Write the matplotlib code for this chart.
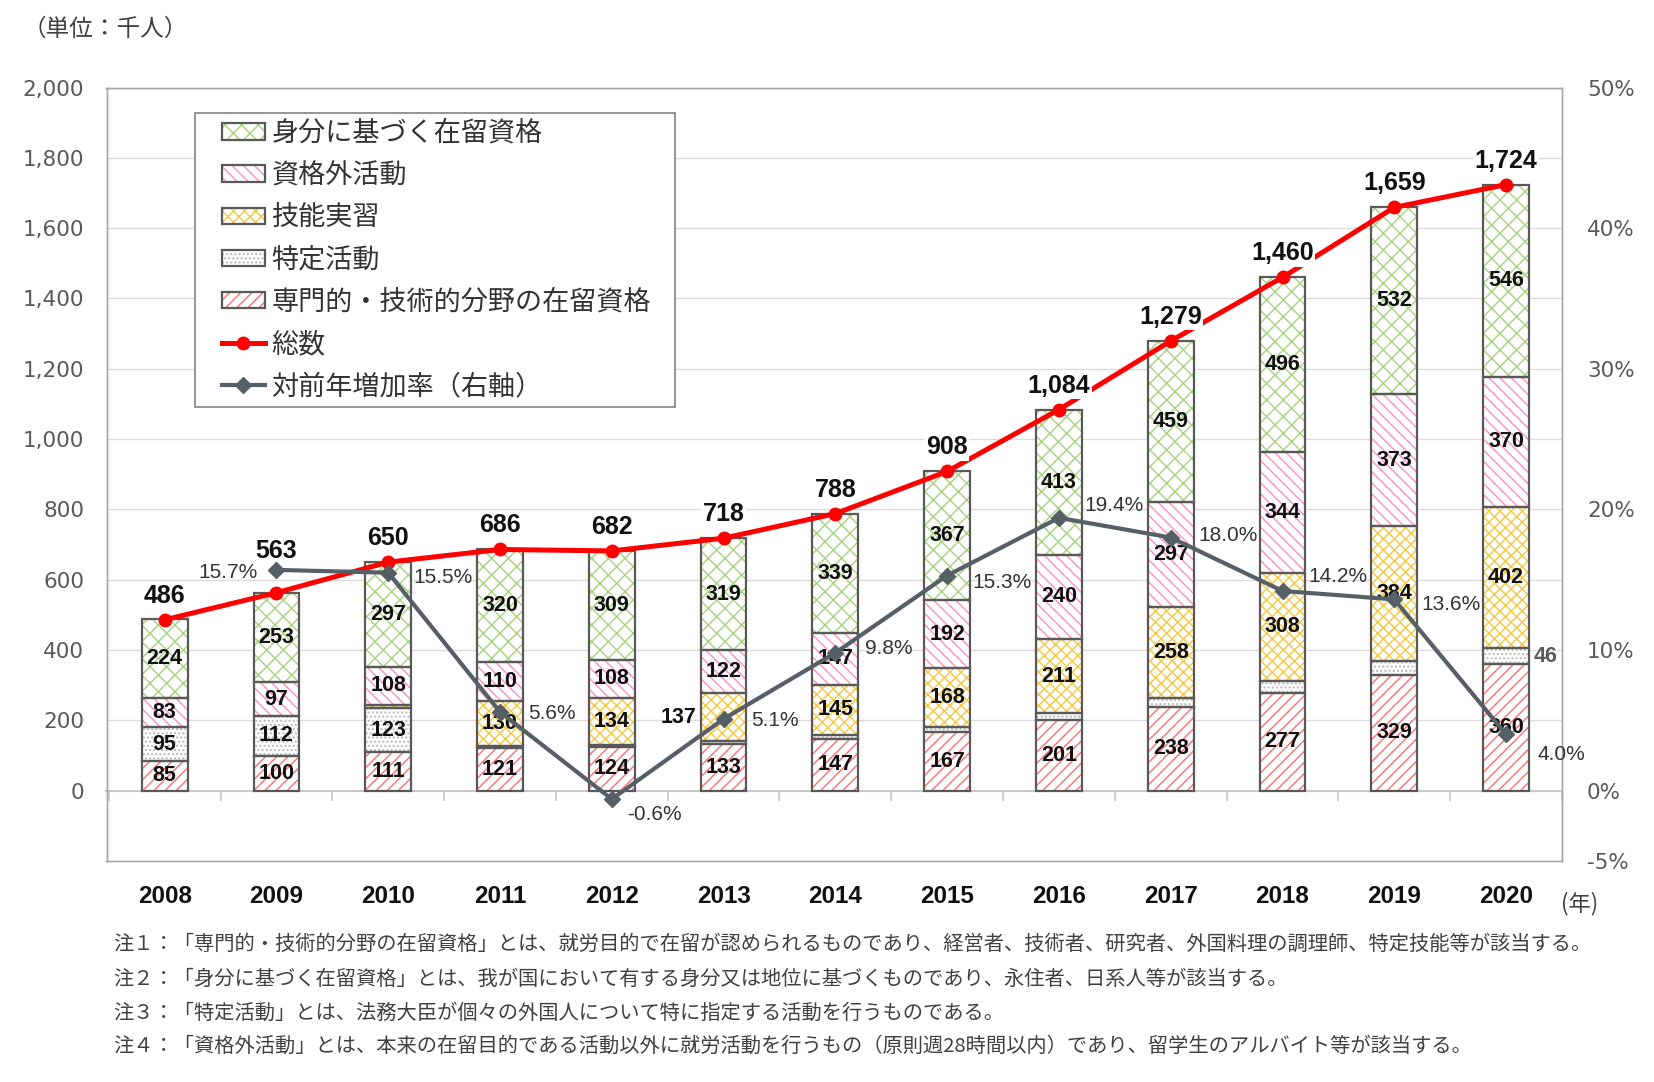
import matplotlib
matplotlib.use('Agg')
import matplotlib.pyplot as plt
from matplotlib.patches import Patch, Rectangle
from matplotlib.lines import Line2D
from matplotlib.legend_handler import HandlerTuple
from matplotlib.ticker import FuncFormatter
import numpy as np

# ---------------- data ----------------
years = ['2008', '2009', '2010', '2011', '2012', '2013', '2014',
         '2015', '2016', '2017', '2018', '2019', '2020']
senmon = [85, 100, 111, 121, 124, 133, 147, 167, 201, 238, 277, 329, 360]      # 専門的・技術的分野の在留資格
tokutei = [95, 112, 123, 5, 7, 7, 10, 14, 19, 27, 35, 41, 46]                   # 特定活動
ginou = [0, 0, 11, 130, 134, 137, 145, 168, 211, 258, 308, 384, 402]            # 技能実習
shikakugai = [83, 97, 108, 110, 108, 122, 147, 192, 240, 297, 344, 373, 370]    # 資格外活動
mibun = [224, 253, 297, 320, 309, 319, 339, 367, 413, 459, 496, 532, 546]       # 身分に基づく在留資格
totals = [486, 563, 650, 686, 682, 718, 788, 908, 1084, 1279, 1460, 1659, 1724]  # 総数
growth = [np.nan, 15.7, 15.5, 5.6, -0.6, 5.1, 9.8, 15.3, 19.4, 18.0, 14.2, 13.6, 4.0]  # 対前年増加率

series_names = ['専門的・技術的分野の在留資格', '特定活動', '技能実習', '資格外活動', '身分に基づく在留資格']
left_ticks = [0, 200, 400, 600, 800, 1000, 1200, 1400, 1600, 1800, 2000]
right_ticks = [-5, 0, 10, 20, 30, 40, 50]

notes = [
    '注１：「専門的・技術的分野の在留資格」とは、就労目的で在留が認められるものであり、経営者、技術者、研究者、外国料理の調理師、特定技能等が該当する。',
    '注２：「身分に基づく在留資格」とは、我が国において有する身分又は地位に基づくものであり、永住者、日系人等が該当する。',
    '注３：「特定活動」とは、法務大臣が個々の外国人について特に指定する活動を行うものである。',
    '注４：「資格外活動」とは、本来の在留目的である活動以外に就労活動を行うもの（原則週28時間以内）であり、留学生のアルバイト等が該当する。',
]

# ---------------- styles ----------------
JP = ['Noto Sans CJK JP', 'DejaVu Sans']
NUM = ['Liberation Sans', 'DejaVu Sans']
plt.rcParams['font.family'] = JP
plt.rcParams['hatch.linewidth'] = 1.0

hatch_colors = ['#ff6f6f', '#b8b8b8', '#f5c840', '#ff8fc0', '#a6d27f']
hatches = ['///', '....', 'xxx', '\\\\\\', 'xx']
edge = '#595959'
# label placement per series/year: 'in', 'left', 'right', or '' (none)
place = [
    ['in'] * 13,
    ['in', 'in', 'in', '', '', '', '', '', '', '', '', '', 'right'],
    ['', '', '', 'in', 'in', 'left', 'in', 'in', 'in', 'in', 'in', 'in', 'in'],
    ['in'] * 13,
    ['in'] * 13,
]
total_offsets = [12, 30, 12, 12, 12, 12, 12, 12, 12, 12, 12, 12, 12]
growth_offsets = [None, (-19, -3, 'right'), (25, -5, 'left'), (28, -2, 'left'),
                  (15, -15, 'left'), (28, -2, 'left'), (30, 4, 'left'),
                  (25, -7, 'left'), (25, 12, 'left'), (28, 2, 'left'),
                  (26, 14, 'left'), (27, -5, 'left'), (31, -20, 'left')]

W, H, DPI = 1654, 1082, 100
fig = plt.figure(figsize=(W / DPI, H / DPI), dpi=DPI)
fig.patch.set_facecolor('white')

L, R, T, B = 106.5, 1562, 87.5, 861
ax = fig.add_axes([L / W, 1 - B / H, (R - L) / W, (B - T) / H])
ax2 = ax.twinx()

x = np.arange(len(years))
bw = 0.41
SEG_FS = 15.5
data = [senmon, tokutei, ginou, shikakugai, mibun]
bottom = np.zeros(len(years))
for si, vals in enumerate(data):
    vals = np.array(vals, dtype=float)
    m = vals > 0
    ax.bar(x[m], vals[m], bw, bottom=bottom[m], facecolor='white',
           edgecolor=hatch_colors[si], hatch=hatches[si], linewidth=0, zorder=2)
    ax.bar(x[m], vals[m], bw, bottom=bottom[m], fill=False,
           edgecolor=edge, linewidth=1.6, zorder=2.1)
    for i in range(len(years)):
        p = place[si][i]
        if not p:
            continue
        mid = bottom[i] + vals[i] / 2
        if p == 'in':
            ax.text(x[i], mid, f'{int(vals[i])}', ha='center', va='center',
                    fontsize=SEG_FS, fontweight='bold', family=NUM, color='#111111', zorder=4)
        elif p == 'left':
            ax.annotate(f'{int(vals[i])}', (x[i] - bw / 2, mid), xytext=(-4, 0),
                        textcoords='offset pixels', ha='right', va='center',
                        fontsize=SEG_FS, fontweight='bold', family=NUM, color='#111111', zorder=4)
        else:
            ax.annotate(f'{int(vals[i])}', (x[i] + bw / 2, mid), xytext=(5, 0),
                        textcoords='offset pixels', ha='left', va='center',
                        fontsize=SEG_FS, fontweight='bold', family=NUM, color='#595959', zorder=4)
    bottom += vals

# total line
ax.plot(x, totals, color='#ff0000', lw=3.6, marker='o', ms=9, zorder=3)
for i, t in enumerate(totals):
    ax.annotate(f'{t:,}', (x[i], t), xytext=(0, total_offsets[i]), textcoords='offset pixels',
                ha='center', va='bottom', fontsize=18, fontweight='bold', family=NUM,
                color='#111111', zorder=4,
                bbox=dict(boxstyle='square,pad=0.05', fc='white', ec='none'))

# growth line (right axis)
g = np.array(growth, dtype=float)
ax2.plot(x, g, color='#575f66', lw=3.0, marker='D', ms=8, zorder=3)
for i, v in enumerate(growth):
    if growth_offsets[i] is None or np.isnan(v):
        continue
    dx, dy, ha = growth_offsets[i]
    ax2.annotate(f'{v:.1f}%', (x[i], v), xytext=(dx, dy), textcoords='offset pixels',
                 ha=ha, va='center', fontsize=15, family=NUM, color='#333333', zorder=5)

# axes limits & ticks
ax.set_xlim(-0.52, 12.5)
ax.set_ylim(-200, 2000)
ax2.set_ylim(-5, 50)
ax.set_yticks(left_ticks)
ax.yaxis.set_major_formatter(FuncFormatter(lambda v, p: f'{int(v):,}'))
ax2.set_yticks(right_ticks)
ax2.yaxis.set_major_formatter(FuncFormatter(lambda v, p: f'{int(v)}%'))
ax.tick_params(axis='y', length=0, pad=16, labelsize=15.5, labelcolor='#595959')
ax2.tick_params(axis='y', length=0, pad=18, labelsize=15.5, labelcolor='#595959')
for lab in ax.get_yticklabels() + ax2.get_yticklabels():
    lab.set_family(['DejaVu Sans'])

ax.set_xticks(x)
ax.set_xticklabels(years, fontsize=17.5, fontweight='bold', family=NUM, color='#111111')
ax.tick_params(axis='x', length=0, pad=17)

# gridlines
for v in left_ticks[1:]:
    ax.axhline(v, color='#dcdcdc', lw=1.0, zorder=0.5)

# category axis on 0 line
sec = ax.secondary_xaxis(200 / 2200)
sec.set_xticks(np.arange(len(years) + 1) - 0.5)
sec.set_xticklabels([''] * (len(years) + 1))
sec.tick_params(axis='x', direction='out', length=7, width=1.2, color='#c8c8c8')
sec.spines['bottom'].set_color('#c8c8c8')
sec.spines['bottom'].set_linewidth(1.5)

for a in (ax, ax2):
    for s in a.spines.values():
        s.set_color('#a6a6a6')
        s.set_linewidth(1.0)

# legend
def bar_handle(k):
    return (Patch(facecolor='white', edgecolor=hatch_colors[k], hatch=hatches[k], lw=0),
            Patch(fill=False, edgecolor=edge, lw=1.6))

handles = [bar_handle(4), bar_handle(3), bar_handle(2), bar_handle(1), bar_handle(0),
           Line2D([], [], color='#ff0000', lw=3.6, marker='o', ms=9),
           Line2D([], [], color='#575f66', lw=3.0, marker='D', ms=8)]
labels = [series_names[4], series_names[3], series_names[2], series_names[1], series_names[0],
          '総数', '対前年増加率（右軸）']
leg = ax2.legend(handles, labels, loc='upper left',
                 bbox_to_anchor=(221.5 / W, 1 - 120 / H), bbox_transform=fig.transFigure,
                 borderaxespad=0, prop={'family': JP, 'size': 19.5},
                 handler_map={tuple: HandlerTuple(ndivide=1, pad=0)},
                 handlelength=1.6, handleheight=0.55, handletextpad=0.25,
                 labelspacing=0.56, borderpad=0, frameon=False, labelcolor='#333333')
leg.set_zorder(10)
legbox = Rectangle((195 / W, 1 - 407 / H), (675 - 195) / W, (407 - 113) / H,
                   transform=fig.transFigure, facecolor='white',
                   edgecolor='#8c8c8c', lw=1.3, zorder=9)
ax2.add_artist(legbox)

# texts
fig.text(23 / W, 1 - 29.5 / H, '（単位：千人）', ha='left', va='center', fontsize=17,
         family=JP, color='#404040')
fig.text(1561 / W, 1 - 904 / H, '(年)', ha='left', va='center', fontsize=16,
         family=JP, color='#404040')
for k, (t, yy) in enumerate(zip(notes, [944, 979, 1013, 1046])):
    fig.text(113 / W, 1 - yy / H, t, ha='left', va='center', fontsize=14.6,
             family=JP, color='#404040')

fig.savefig('out.png', dpi=DPI, facecolor='white')
